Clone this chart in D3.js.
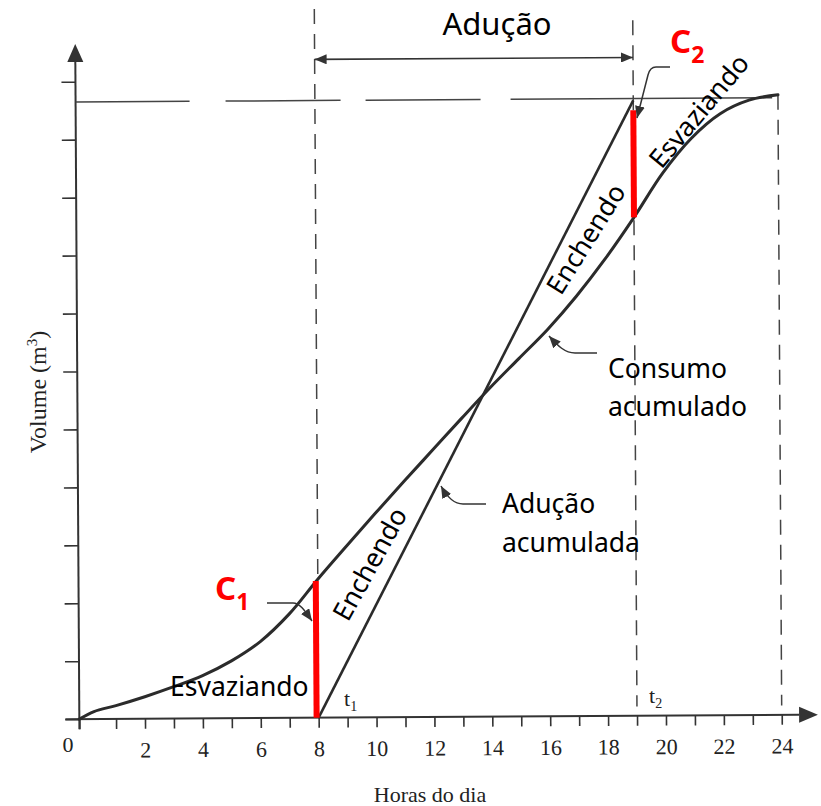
<!DOCTYPE html>
<html><head><meta charset="utf-8">
<script src="https://cdn.jsdelivr.net/npm/d3@7"></script>
<style>
html,body{margin:0;padding:0;background:#fff;}
svg{display:block;}
</style></head><body>
<svg id="chart" width="821" height="806"></svg>
<script>
// ---------------- data ----------------
const hourTicks = [0,1,2,3,4,5,6,7,8,9,10,11,12,13,14,15,16,17,18,19,20,21,22,23,24];
const hourLabels = [2,4,6,8,10,12,14,16,18,20,22,24];
const volumeTicks = [0,1,2,3,4,5,6,7,8,9,10,11];

// Consumo acumulado (cumulative consumption)
const consumoHours  = [0, 0.4, 1, 2, 3, 4, 5, 6, 7, 8, 9, 10, 11, 12, 13, 14, 15, 16, 17, 18, 19, 20, 21, 22, 23, 24];
const consumoVolume = [0, 0.13, 0.23, 0.38, 0.55, 0.74, 0.99, 1.32, 1.79, 2.39, 2.96, 3.52, 4.07, 4.61, 5.15, 5.68, 6.18, 6.68, 7.25, 7.89, 8.60, 9.36, 9.96, 10.38, 10.61, 10.70];

// Adução acumulada (cumulative supply), straight line 8h -> 19h
const aducaoHours  = [8, 19];
const aducaoVolume = [0, 10.62];

// Red capacity segments C1, C2
const capHours  = [7.93, 19];
const capBottom = [0, 8.60];
const capTop    = [2.36, 10.45];

// vertical dashed guides
const guideHours  = [8, 19, 24];
const guideTop    = [12.23, 12.0, 10.7];
const guideBottom = [2.4, 0.16, 0.16];

// horizontal dashed level (max volume)
const levelVolume = 10.65;
const levelSpan = [0, 23.8];

// Adução period arrow
const periodHours = [8, 19];
const periodLevel = 11.36;

// ---------------- drawing ----------------
const svg = d3.select("#chart");
const ink = "#2b2b2b";

const x = d3.scaleLinear().domain([0, 1, 24]).range([77.4, 114.1, 779.8]);
const y = d3.scaleLinear().domain([0, 11]).range([717, 79.55]);

const defs = svg.append("defs");
defs.append("marker").attr("id","tri").attr("viewBox","0 0 12 10")
  .attr("refX",12).attr("refY",5).attr("markerWidth",12).attr("markerHeight",10)
  .attr("markerUnits","userSpaceOnUse").attr("orient","auto-start-reverse")
  .append("path").attr("d","M0,0 L12,5 L0,10 z").attr("fill","#333");

const scan = svg.append("g").attr("transform","rotate(-0.35,430,400)");

// axes (ticks)
const xAxis = d3.axisBottom(x).tickValues(hourTicks).tickSize(10).tickPadding(13)
  .tickFormat(d => hourLabels.includes(d) ? String(d) : "");
scan.append("g").attr("transform",`translate(0,${y(0)})`).call(xAxis)
  .call(g => g.select(".domain").remove())
  .call(g => g.selectAll(".tick line").attr("stroke","#333").attr("stroke-width",1.6))
  .call(g => g.selectAll(".tick text").attr("fill","#222")
      .attr("font-family","'Liberation Serif', 'Times New Roman', serif").attr("font-size",22));

const yAxis = d3.axisLeft(y).tickValues(volumeTicks).tickSize(14).tickFormat(() => "");
scan.append("g").attr("transform",`translate(${x(0)},0)`).call(yAxis)
  .call(g => g.select(".domain").remove())
  .call(g => g.selectAll(".tick line").attr("stroke","#333").attr("stroke-width",1.6));

// axis lines + arrow heads
const yArrowBase = 11.34, yArrowTip = 11.65;
const xArrowBase = 24.6, xArrowTip = 25.25;
scan.append("line").attr("x1",x(0)).attr("x2",x(0)).attr("y1",y(0)+10).attr("y2",y(yArrowBase))
  .attr("stroke","#333").attr("stroke-width",2);
scan.append("path")
  .attr("d",`M${x(0)-8},${y(yArrowBase)} L${x(0)},${y(yArrowTip)} L${x(0)+8},${y(yArrowBase)} Z`)
  .attr("fill","#333");
scan.append("line").attr("x1",x(0)-14).attr("x2",x(xArrowBase)).attr("y1",y(0)).attr("y2",y(0))
  .attr("stroke","#333").attr("stroke-width",2);
scan.append("path")
  .attr("d",`M${x(xArrowBase)},${y(0)-8} L${x(xArrowTip)},${y(0)} L${x(xArrowBase)},${y(0)+8} Z`)
  .attr("fill","#333");

// vertical dashed guides
scan.selectAll(".guide").data(guideHours).join("line").attr("class","guide")
  .attr("x1",d=>x(d)).attr("x2",d=>x(d))
  .attr("y1",(d,i)=>y(guideTop[i])).attr("y2",(d,i)=>y(guideBottom[i]))
  .attr("stroke","#444").attr("stroke-width",1.5).attr("stroke-dasharray","15,10");

// horizontal dashed level
scan.append("line").attr("x1",x(levelSpan[0])).attr("x2",x(levelSpan[1]))
  .attr("y1",y(levelVolume)).attr("y2",y(levelVolume))
  .attr("stroke","#444").attr("stroke-width",1.5)
  .attr("stroke-dasharray","114,36,115,25,115,30,400");

// period arrow
scan.append("line").attr("x1",x(periodHours[0])).attr("x2",x(periodHours[1]))
  .attr("y1",y(periodLevel)).attr("y2",y(periodLevel))
  .attr("stroke","#333").attr("stroke-width",1.6)
  .attr("marker-start","url(#tri)").attr("marker-end","url(#tri)");

// curves
scan.append("path")
  .datum(consumoHours.map((h,i)=>[h,consumoVolume[i]]))
  .attr("d", d3.line().x(d=>x(d[0])).y(d=>y(d[1])).curve(d3.curveCatmullRom.alpha(0.5)))
  .attr("fill","none").attr("stroke",ink).attr("stroke-width",3).attr("stroke-linecap","round");
scan.append("path")
  .datum(aducaoHours.map((h,i)=>[h,aducaoVolume[i]]))
  .attr("d", d3.line().x(d=>x(d[0])).y(d=>y(d[1])))
  .attr("fill","none").attr("stroke",ink).attr("stroke-width",2.6);

// red capacity segments
scan.selectAll(".cap").data(capHours).join("line").attr("class","cap")
  .attr("x1",d=>x(d)).attr("x2",d=>x(d))
  .attr("y1",(d,i)=>y(capBottom[i])).attr("y2",(d,i)=>y(capTop[i]))
  .attr("stroke","#ff0000").attr("stroke-width",6);

// ---------------- overlay text & pointers ----------------
const ov = svg.append("g");
const serif = "'Liberation Serif', 'Times New Roman', serif";
const sans = "'Noto Sans', 'Open Sans', sans-serif";

// pointers
const pointers = [
  "M267,603 L293,603 C300,603 305,611 312,621",
  "M670,67 L656,67 C651,67 649,71 648,75 L637,118",
  "M597,353 L575,353 C565,353 558,346 549,336",
  "M486,504 L463,504 C455,504 447,497 441,486"
];
ov.selectAll(".ptr").data(pointers).join("path").attr("class","ptr")
  .attr("d",d=>d).attr("fill","none").attr("stroke","#333").attr("stroke-width",1.5)
  .attr("marker-end","url(#tri)");

// serif labels
ov.append("text").attr("x",68).attr("y",752).attr("text-anchor","middle")
  .attr("font-family",serif).attr("font-size",22).attr("fill","#222").text("0");
ov.append("text").attr("x",430).attr("y",802).attr("text-anchor","middle")
  .attr("font-family",serif).attr("font-size",22).attr("fill","#222").text("Horas do dia");
const vol = ov.append("text").attr("transform","translate(46,392) rotate(-90)").attr("text-anchor","middle")
  .attr("font-family",serif).attr("font-size",24).attr("fill","#222");
vol.append("tspan").text("Volume (m");
vol.append("tspan").attr("font-size",15).attr("dy",-9).text("3");
vol.append("tspan").attr("dy",9).text(")");

function tsub(px, py, main, sub){
  const t = ov.append("text").attr("x",px).attr("y",py)
    .attr("font-family",serif).attr("font-size",22).attr("fill","#222");
  t.append("tspan").text(main);
  t.append("tspan").attr("font-size",14).attr("dy",5).text(sub);
}
tsub(344, 706, "t", "1");
tsub(649, 703, "t", "2");

// sans labels
function st(px, py, txt, size, anchor, rot){
  return ov.append("text")
    .attr("transform",`translate(${px},${py})` + (rot ? ` rotate(${rot})` : ""))
    .attr("text-anchor",anchor||"start").attr("font-family",sans).attr("font-size",size)
    .attr("fill","#000").text(txt);
}
st(497, 35, "Adução", 31, "middle");
st(170, 696, "Esvaziando", 26.5);
st(608, 378, "Consumo", 26.5);
st(608, 416, "acumulado", 26.5);
st(502, 513, "Adução", 26.5);
st(502, 552, "acumulada", 26.5);
st(370, 564, "Enchendo", 26.5, "middle", -61).attr("dy","0.35em");
st(586, 239, "Enchendo", 26.5, "middle", -58).attr("dy","0.35em");
st(699, 111, "Esvaziando", 26.5, "middle", -50).attr("dy","0.35em");

// C1, C2 in red bold
function cLabel(px, py, sub){
  const t = ov.append("text").attr("x",px).attr("y",py)
    .attr("font-family",sans).attr("font-weight","bold").attr("font-size",33).attr("fill","#ff0000");
  t.append("tspan").text("C");
  t.append("tspan").attr("font-size",23).attr("dy",10).text(sub);
}
cLabel(215, 600, "1");
cLabel(670, 53, "2");
</script>
</body></html>
